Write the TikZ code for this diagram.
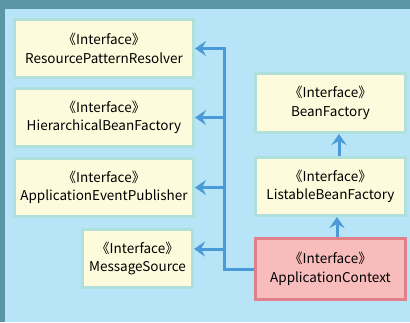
\documentclass[tikz,border=0pt]{standalone}
\usepackage{fontspec}
\setmainfont{Noto Sans CJK JP}
\newfontfamily\cjk{Noto Sans CJK JP}
\usepackage{tikz}
\usetikzlibrary{arrows.meta, positioning}

\definecolor{bgblue}{HTML}{B8E4F8}
\definecolor{frame}{HTML}{5A96A6}
\definecolor{boxfill}{HTML}{FEFBDC}
\definecolor{boxline}{HTML}{B0E0DC}
\definecolor{ctxfill}{HTML}{F8BCBC}
\definecolor{ctxline}{HTML}{E08088}
\definecolor{arrblue}{HTML}{4A9AD8}

\newcommand{\iface}[1]{{\cjk《}Interface{\cjk》}\\#1}

\tikzset{
    ibox/.style={draw=boxline, fill=boxfill, line width=3pt, align=center,
        font=\fontsize{13.5}{18.5}\selectfont, inner sep=0pt},
    ctxbox/.style={ibox, draw=ctxline, fill=ctxfill},
    gen/.style={draw=arrblue, line width=3pt,
        -{Stealth[length=11pt, width=15pt, inset=4pt]}},
}

\begin{document}
\begin{tikzpicture}[x=1pt, y=-1pt]
    \useasboundingbox (0,0) rectangle (410,322);
    \fill[bgblue] (0,0) rectangle (410,322);
    \fill[frame] (0,0) rectangle (410,9);
    \fill[frame] (0,0) rectangle (5,322);
    % left column
    \foreach \n/\y/\t in {rpr/48.5/ResourcePatternResolver,
                          hbf/117.5/HierarchicalBeanFactory,
                          aep/187.5/ApplicationEventPublisher} {
        \node[ibox, minimum width=179pt, minimum height=58pt] (\n) at (104,\y) {\iface{\t}};
    }
    \node[ibox, minimum width=110pt, minimum height=58pt] (ms) at (137.5,258.5) {\iface{MessageSource}};
    % right column
    \node[ibox, minimum width=150pt, minimum height=59pt] (bf) at (330.5,103) {\iface{BeanFactory}};
    \node[ibox, minimum width=150pt, minimum height=58pt] (lbf) at (330.5,186.5) {\iface{ListableBeanFactory}};
    \node[ctxbox, minimum width=150pt, minimum height=61pt] (ac) at (330.5,269) {\iface{ApplicationContext}};
    % inheritance
    \draw[gen] (lbf.north -| 339,0) -- (bf.south -| 339,0);
    \draw[gen] (ac.north -| 337,0) -- (lbf.south -| 337,0);
    \draw[gen] (ac.west) -- ++(-30,0) coordinate (bus) |- (rpr.east);
    \draw[gen] (bus |- hbf.east) -- (hbf.east);
    \draw[gen] (bus |- aep.east) -- (aep.east);
    \draw[gen] (bus |- 0,249) -- (ms.east |- 0,249);
\end{tikzpicture}
\end{document}
